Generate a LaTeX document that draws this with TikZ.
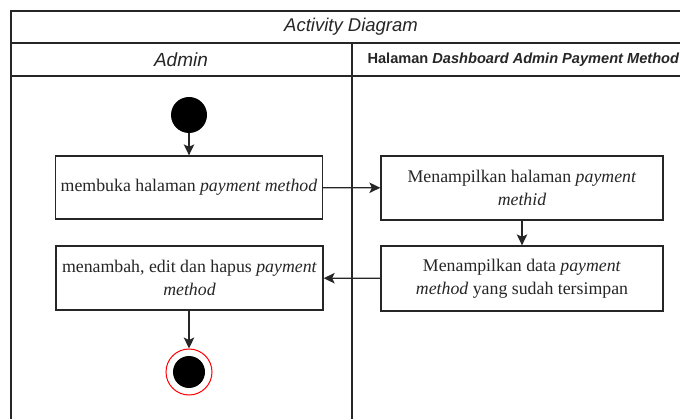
\documentclass[tikz,border=0pt]{standalone}
\usepackage{fontspec}
\setmainfont{Liberation Serif}
\newfontfamily\lanefont{Liberation Sans}
\usetikzlibrary{arrows.meta}
\begin{document}
\begin{tikzpicture}[x=1pt,y=-1pt,
  frameline/.style={line width=1.4pt,draw=black!85},
  action/.style={draw=black!85,line width=1.3pt,fill=white,inner sep=0pt,
    align=center,font=\fontsize{17.8}{22.5}\selectfont,text=black!85},
  flow/.style={line width=1.3pt,draw=black!85,
    -{Stealth[length=11pt,width=10.5pt,inset=2.5pt]}},
  startnode/.style={circle,fill=black,minimum size=36pt,inner sep=0pt},
  endring/.style={circle,draw=red,line width=1pt,fill=white,minimum size=46pt,inner sep=0pt},
  enddot/.style={circle,fill=black,minimum size=32pt,inner sep=0pt},
  headtext/.style={font=\lanefont\itshape\fontsize{18.5}{22}\selectfont,text=black!85}
]
\useasboundingbox (0,0) rectangle (680,419);
\clip (0,0) rectangle (680,419);

% swimlane frame
\draw[frameline] (11,11) rectangle (700,440);
\draw[frameline] (11,43) -- (700,43);
\draw[frameline] (11,76) -- (700,76);
\draw[frameline] (352,43) -- (352,440);

% headers
\node[headtext] (title) at (351,27) {Activity Diagram};
\node[headtext,font=\lanefont\itshape\fontsize{19}{22}\selectfont] (laneA) at (181,60) {Admin};
\node[font=\lanefont\bfseries\fontsize{14.6}{17}\selectfont,text=black!85,anchor=west]
  (laneB) at (364,60) {Halaman \textit{Dashboard Admin Payment Method}};

% activities
\node[startnode] (start) at (189,115) {};
\node[action,minimum width=267pt,minimum height=63pt] (a1) at (189,187.5)
  {membuka halaman \textit{payment method}};
\node[action,minimum width=282pt,minimum height=64pt] (a2) at (522,188)
  {Menampilkan halaman \textit{payment}\\\textit{methid}};
\node[action,minimum width=282pt,minimum height=65pt] (a3) at (522,278.5)
  {Menampilkan data \textit{payment}\\\textit{method} yang sudah tersimpan};
\node[action,minimum width=267pt,minimum height=64pt] (a4) at (189.5,278)
  {menambah, edit dan hapus \textit{payment}\\\textit{method}};
\node[endring] (stop) at (189,372) {};
\node[enddot] (stopdot) at (stop.center) {};

% control flow
\draw[flow] (start) -- (a1);
\draw[flow] (a1) -- (a2);
\draw[flow] (a2) -- (a3);
\draw[flow] (a3) -- (a4);
\draw[flow] (a4.south -| stop) -- (stop);
\end{tikzpicture}
\end{document}
